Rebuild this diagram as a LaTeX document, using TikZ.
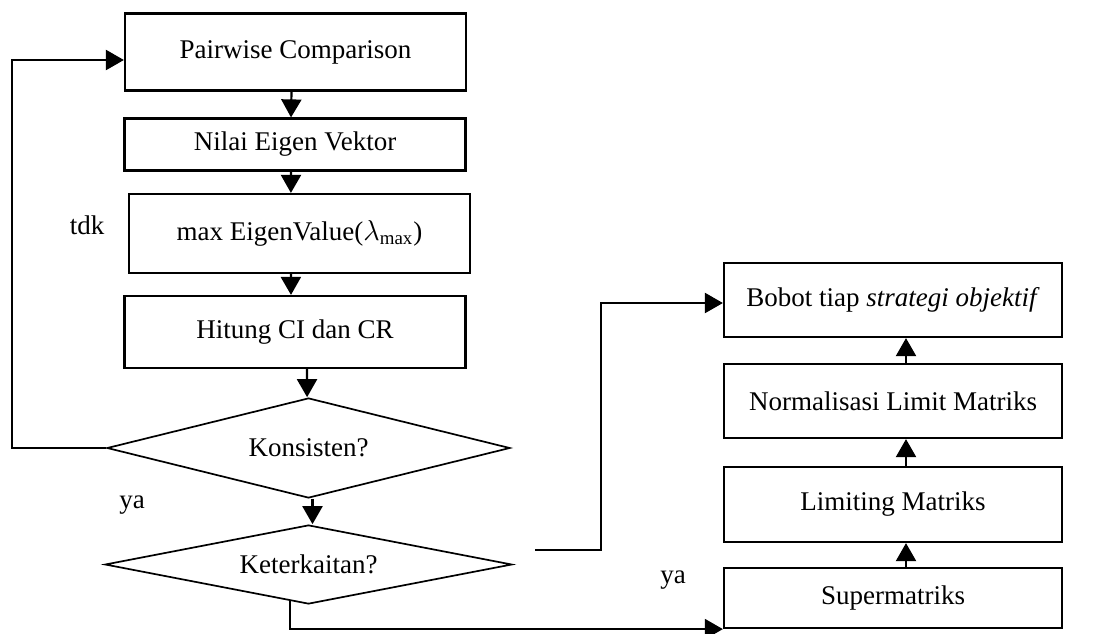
\documentclass[tikz,border=0pt]{standalone}
\usepackage{fontspec}
\setmainfont{Liberation Serif}
\usepackage{tikz}
\usetikzlibrary{shapes,arrows}
\usetikzlibrary{calc, arrows.meta}

\begin{document}
\begin{tikzpicture}[x=0.5pt,y=-0.5pt,>={Triangle[length=9pt,width=10pt]},line width=1.1pt,
    font=\fontsize{13.5}{16}\selectfont,
    box/.style={draw, rectangle, inner sep=0pt, minimum width=170.5pt},
    rbox/.style={draw, rectangle, inner sep=0pt, minimum width=169pt},
    cond/.style={draw, diamond, inner sep=0pt, line width=.85pt}]
          \useasboundingbox (0,0) rectangle (1103,633);

          \node [box, minimum height=38.5pt] (pair) at (295.5, 52) {Pairwise Comparison};
          \node [box, minimum height=26pt] (nilai) at (295, 144.5) {Nilai Eigen Vektor};
          \node [box, minimum height=39.5pt, minimum width=170.5pt] (maxev) at (299.5, 233.5) {max EigenValue($\lambda_{\mathrm{max}}$)};
          \node [box, minimum height=36pt] (hitung) at (295, 332) {Hitung CI dan CR};
          \node [cond, aspect=4, minimum width=201.5pt, minimum height=50pt] (kons) at (308.5, 448) {Konsisten?};
          \node [cond, aspect=5.1, minimum width=203.5pt, minimum height=39.5pt] (ket) at (308.5, 564.5) {Keterkaitan?};

          \node [rbox, minimum height=37pt] (bobot) at (893, 300) {Bobot tiap \textit{strategi objektif}};
          \node [rbox, minimum height=37pt] (norm) at (893, 401) {Normalisasi Limit Matriks};
          \node [rbox, minimum height=37.5pt] (limit) at (893, 504.5) {Limiting Matriks};
          \node [rbox, minimum height=30pt] (super) at (893, 598) {Supermatriks};

          \node (tdk) at (87, 225) {tdk};
          \node (ya1) at (132, 505) {ya};
          \node (ya2) at (673, 580) {ya};

          \coordinate (fb) at (12, 448);
          \coordinate (k1) at (290, 600);
          \coordinate (k2) at (535, 550);
          \coordinate (k3) at (601, 550);

          \draw [->] ([xshift=-2pt]pair.south) -- ([xshift=-2pt]nilai.north);
          \draw [->] ([xshift=-2pt]nilai.south) -- ([xshift=-4.3pt]maxev.north);
          \draw [->] ([xshift=-4.3pt]maxev.south) -- ([xshift=-2pt]hitung.north);
          \draw [->] ([xshift=6pt]hitung.south) -- ([xshift=-0.7pt]kons.north);
          \draw [->] ([xshift=2pt]kons.south) -- ([xshift=2pt]ket.north);
          \draw [->] (kons.west) -- (fb) |- ([yshift=-4pt]pair.west);
          \draw [->] (k1) |- (super.south west);
          \draw [->] (k2) -- (k3) |- ([yshift=-1.5pt]bobot.west);

          \draw [->] ([xshift=6.5pt]super.north) -- ([xshift=6.5pt]limit.south);
          \draw [->] ([xshift=6.5pt]limit.north) -- ([xshift=6.5pt]norm.south);
          \draw [->] ([xshift=6.5pt]norm.north) -- ([xshift=6.5pt]bobot.south);

      \end{tikzpicture}
\end{document}
